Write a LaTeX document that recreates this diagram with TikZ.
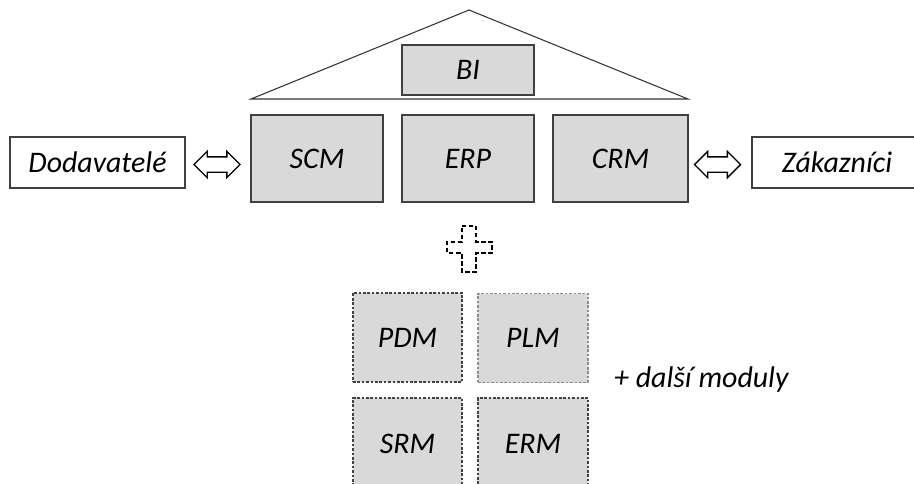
\documentclass[tikz,border=0pt]{standalone}
\usepackage{fontspec}
\setmainfont{Carlito}
\usetikzlibrary{shapes.arrows}
\definecolor{boxgray}{HTML}{D9D9D9}
\newlength{\pxu}\setlength{\pxu}{0.02cm}
\tikzset{
  modul/.style={draw=black!75, fill=boxgray, line width=0.6pt, font=\itshape\fontsize{17}{20}\selectfont},
  dmodul/.style={modul, dash pattern=on 1.5pt off 1pt},
  partner/.style={draw=black!75, fill=white, line width=0.6pt, font=\itshape\fontsize{17}{20}\selectfont},
  dblarrow/.style={double arrow, draw, line width=0.8pt, fill=white, minimum height=46\pxu, minimum width=25\pxu,
    double arrow head extend=5.5\pxu, inner xsep=0pt, inner ysep=7\pxu}
}
\begin{document}
\begin{tikzpicture}[x=0.02cm, y=-0.02cm]
  \useasboundingbox (0,0) rectangle (914,484);
  \draw[line width=0.6pt, black!80] (251,99) coordinate (bl) -- (469,10) coordinate (apex) -- (688,99) coordinate (br) -- cycle;
  \node[modul, minimum width=132\pxu, minimum height=50\pxu] (bi) at (468,70) {BI};
  \node[modul, minimum width=132\pxu, minimum height=87\pxu] (scm) at (317,158.5) {SCM};
  \node[modul, minimum width=132\pxu, minimum height=87\pxu] (erp) at (468,158.5) {ERP};
  \node[modul, minimum width=135\pxu, minimum height=87\pxu] (crm) at (620.5,158.5) {CRM};
  \node[partner, minimum width=175\pxu, minimum height=51\pxu] (dod) at (97.5,162.5) {Dodavatelé};
  \node[partner, minimum width=170\pxu, minimum height=51\pxu] (zak) at (837,162.5) {Zákazníci};
  \node[dblarrow] (a1) at (217,164.5) {};
  \node[dblarrow] (a2) at (717.5,164.5) {};
  \draw[line width=0.8pt, dash pattern=on 2.5pt off 1.5pt] (462,226) -- (476,226) -- (476,242) -- (492,242) -- (492,253)
    -- (476,253) -- (476,272) -- (462,272) -- (462,253) -- (447,253) -- (447,242) -- (462,242) -- cycle;
  \node[dmodul, minimum width=109\pxu, minimum height=89\pxu] (pdm) at (407.5,337.5) {PDM};
  \node[dmodul, draw=black!45, minimum width=110\pxu, minimum height=89\pxu] (plm) at (533,338) {PLM};
  \node[dmodul, minimum width=109\pxu, minimum height=92\pxu] (srm) at (407.5,444) {SRM};
  \node[dmodul, minimum width=110\pxu, minimum height=92\pxu] (erm) at (533,444) {ERM};
  \node[font=\itshape\fontsize{17}{20}\selectfont, anchor=west] (dalsi) at (608,380) {+ další moduly};
\end{tikzpicture}
\end{document}
